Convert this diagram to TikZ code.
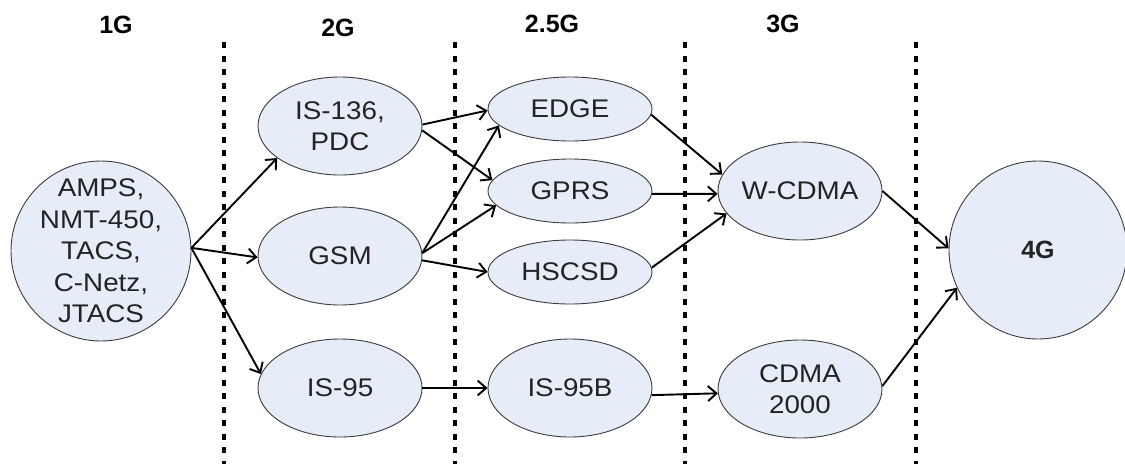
\documentclass[tikz,border=0pt]{standalone}
\usepackage{fontspec}
\setmainfont{Liberation Sans}
\newfontfamily\nodefont[FakeStretch=1.09]{Liberation Sans}
\usetikzlibrary{arrows.meta,shapes.geometric}
\definecolor{nodefill}{RGB}{230,236,248}
\definecolor{nodeline}{RGB}{60,60,60}
\definecolor{txt}{RGB}{35,35,35}
\begin{document}
\begin{tikzpicture}[x=1pt,y=-1pt,
  oval/.style={ellipse,draw=nodeline,line width=0.9pt,fill=nodefill,inner sep=-6pt,
     minimum width=164pt,minimum height=98pt,align=center,text=txt,
     font=\nodefont\fontsize{25.5}{31.5}\selectfont},
  flat/.style={oval,minimum height=64pt},
  round/.style={circle,draw=nodeline,line width=0.9pt,fill=nodefill,inner sep=-14pt,
     minimum size=180pt,align=center,text=txt,font=\nodefont\fontsize{25.5}{31.5}\selectfont},
  gen/.style={font=\bfseries\fontsize{25}{30}\selectfont,text=black},
  sep/.style={line width=4pt,dash pattern=on 6pt off 7.5pt,black},
  conn/.style={line width=1.9pt,-{Straight Barb[length=8.5pt,width=15pt]}}]
\useasboundingbox (0,0) rectangle (1125,464);
% separators
\coordinate (s1t) at (224,42); \coordinate (s1b) at (224,464);
\coordinate (s2t) at (455,42); \coordinate (s2b) at (455,464);
\coordinate (s3t) at (685,42); \coordinate (s3b) at (685,464);
\coordinate (s4t) at (916,42); \coordinate (s4b) at (916,464);
\draw[sep] (s1t) -- (s1b);
\draw[sep] (s2t) -- (s2b);
\draw[sep] (s3t) -- (s3b);
\draw[sep] (s4t) -- (s4b);
% generation labels
\node[gen] (l1) at (116,25) {1G};
\node[gen] (l2) at (338,28) {2G};
\node[gen] (l25) at (552,24) {2.5G};
\node[gen] (l3) at (783,24) {3G};
% nodes
\node[round] (g1) at (101,251) {AMPS,\\NMT-450,\\TACS,\\C-Netz,\\JTACS};
\node[oval] (is136) at (340,126) {IS-136,\\PDC};
\node[oval] (gsm) at (340,256) {GSM};
\node[oval] (is95) at (340,388) {IS-95};
\node[flat] (edge) at (570,109) {EDGE};
\node[flat] (gprs) at (570,191) {GPRS};
\node[flat] (hscsd) at (570,272) {HSCSD};
\node[oval] (is95b) at (570,388) {IS-95B};
\node[oval] (wcdma) at (800,191) {W-CDMA};
\node[oval] (cdma) at (800,389) {CDMA\\2000};
\node[round,minimum size=178pt,font=\bfseries\fontsize{25}{30}\selectfont] (g4) at (1038,250) {4G};
% connectors
\draw[conn] (g1.2) -- (is136.207);
\draw[conn] (g1.2) -- (gsm.181);
\draw[conn] (g1.2) -- (is95.170);
\draw[conn] (is136.1) -- (edge.181);
\draw[conn] (is136.357) -- (gprs.172);
\draw[conn] (gsm.2) -- (edge.193);
\draw[conn] (gsm.2) -- (gprs.191);
\draw[conn] (gsm.357) -- (hscsd.180);
\draw[conn] (is95.0) -- (is95b.180);
\draw[conn] (edge.356) -- (wcdma.168);
\draw[conn] (gprs.358) -- (wcdma.182);
\draw[conn] (hscsd.3) -- (wcdma.197);
\draw[conn] (is95b.355) -- (cdma.183);
\draw[conn] (wcdma.0) -- (g4.179);
\draw[conn] (cdma.2) -- (g4.205);
\end{tikzpicture}
\end{document}
